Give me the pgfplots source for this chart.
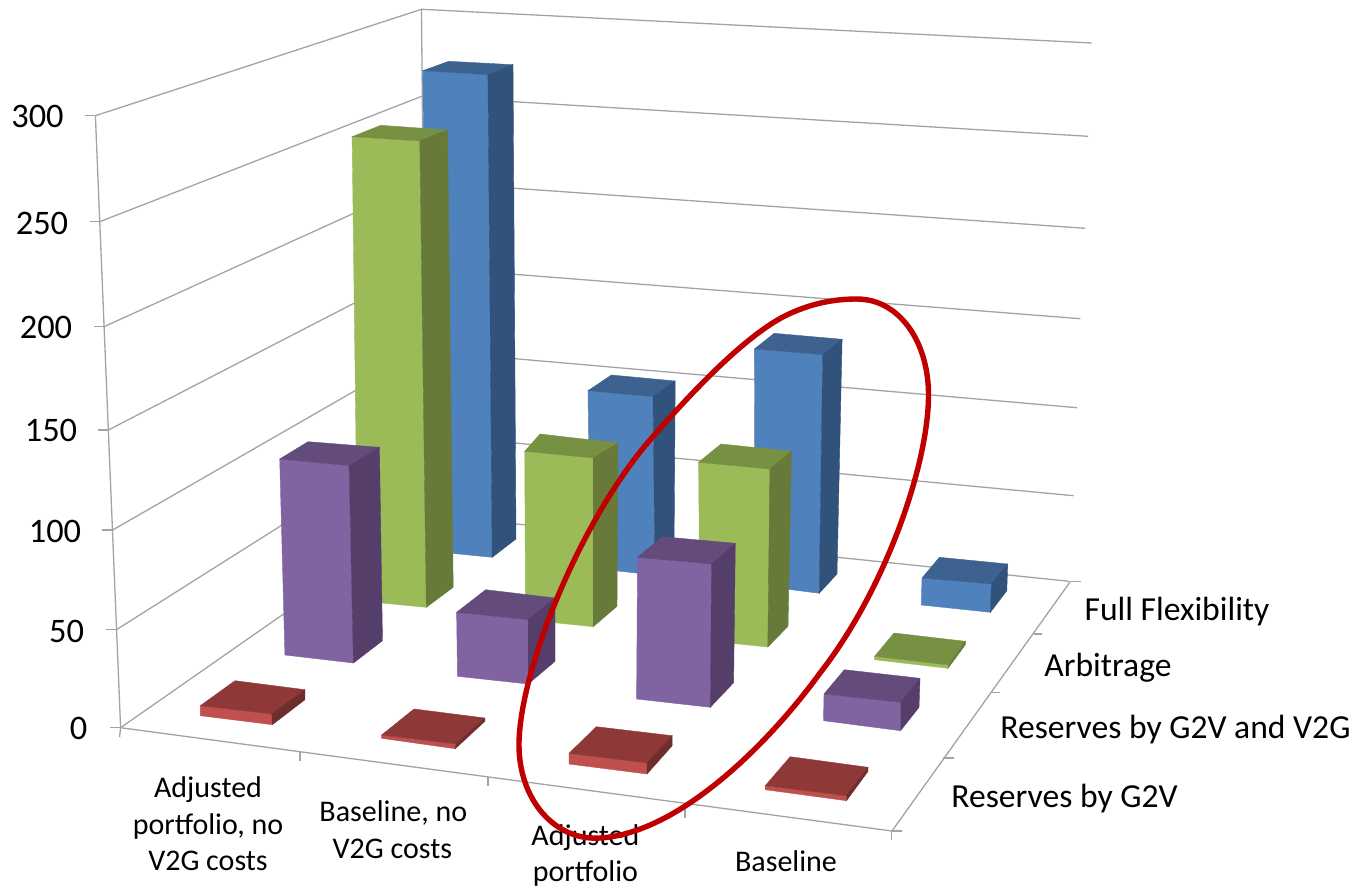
\documentclass[border=0pt]{standalone}
\usepackage{pgfplots}
\pgfplotsset{compat=1.18}
\usepackage{fontspec}
\setmainfont{Carlito}
\definecolor{gridc}{HTML}{A3A3A3}
\definecolor{blueF}{HTML}{4F81BD}\definecolor{blueT}{HTML}{3D628F}\definecolor{blueS}{HTML}{31527A}
\definecolor{greenF}{HTML}{9BBB59}\definecolor{greenT}{HTML}{779143}\definecolor{greenS}{HTML}{677A3A}
\definecolor{purpF}{HTML}{8064A2}\definecolor{purpT}{HTML}{634C7C}\definecolor{purpS}{HTML}{553F6A}
\definecolor{redF}{HTML}{C0504D}\definecolor{redT}{HTML}{8F3838}\definecolor{redS}{HTML}{6E2E2C}
\definecolor{ring}{HTML}{C00000}
% one grey rule of the chart frame
\newcommand\seg[4]{\addplot[gridc,line width=0.65pt] coordinates {(#1,#2) (#3,#4)};}
% one grey polyline of the chart frame
\newcommand\poly[1]{\addplot[gridc,line width=0.65pt] coordinates {#1};}
% one flat face of a bar
\newcommand\face[2]{\addplot[fill=#1,draw=#1,line width=0.2pt] coordinates {#2} --cycle;}
% a bar: front, top and side colour prefix, then the three faces
\newcommand\barbox[4]{\face{#1F}{#2}\face{#1T}{#3}\face{#1S}{#4}}
\newcommand\tickfont{\fontsize{17.2}{19}\selectfont}
\newcommand\catfont{\fontsize{15}{16}\selectfont}
\newcommand\serfont{\fontsize{16.8}{18}\selectfont}
\begin{document}
\begin{tikzpicture}
\useasboundingbox (0,0) rectangle (679pt,444pt);
\begin{axis}[at={(0,0)},anchor=south west,scale only axis,width=679pt,height=444pt,
  xmin=0,xmax=1358,ymin=0,ymax=888,y dir=reverse,hide axis,clip=false]
% walls: each level runs from the front edge to the back corner to the right end
\poly{(95.4,115.7) (421.5,9.3) (1091.6,43)}
\poly{(99.7,221.7) (422,96.2) (1088,136.3)}
\poly{(104,326.7) (423,181.9) (1085,228.3)}
\poly{(108.4,430) (423.8,267.2) (1080.4,318.7)}
\poly{(112.7,530) (424.5,350.8) (1076.9,407.7)}
\poly{(117,629.3) (425.3,434.5) (1073.5,495.7)}
\poly{(120.6,727.7) (426,514.6) (1069,581.3)}
% vertical edges
\seg{95.4}{115.7}{120.6}{727.7}
\seg{421.5}{9.3}{426}{514.6}
% floor edges
\seg{120.6}{727.7}{892}{831}
\seg{892}{831}{1070}{582}
% value ticks
\seg{85.4}{115.7}{95.4}{115.7}
\seg{89.5}{221.7}{99.7}{221.7}
\seg{93.5}{326.7}{104}{326.7}
\seg{98}{430}{108.4}{430}
\seg{102}{530}{112.7}{530}
\seg{106}{629.3}{117}{629.3}
\seg{110}{727.7}{120.6}{727.7}
% category ticks
\seg{120.6}{727.7}{119.6}{737}
\seg{300}{752}{300}{761}
\seg{488}{777}{488}{786}
\seg{685}{809}{685}{818}
\seg{891.6}{831}{891.6}{840}
% series ticks
\seg{892}{831}{902}{831}
\seg{943}{758}{953.7}{758}
\seg{991}{692.3}{1000}{692.3}
\seg{1033.7}{634}{1042}{634}
\seg{1070}{581.3}{1080.7}{581.3}
% Full Flexibility
\barbox{blue}{(422.8,70.7) (487.9,74.7) (492.2,557.3) (428,551)}{(422.8,70.7) (487.9,74.7) (513,64.7) (448.8,61.3)}{(487.9,74.7) (513,64.7) (516,539) (492.2,557.3)}
\barbox{blue}{(588,390.7) (653,396.7) (655,575) (590,568)}{(588,390.7) (653,396.7) (675.2,381) (611.4,375)}{(653,396.7) (675.2,381) (674,557) (655,575)}
\barbox{blue}{(754.4,349) (822.7,354.7) (819.2,593.3) (755,585)}{(754.4,349) (822.7,354.7) (842.1,339.3) (774.2,333.3)}{(822.7,354.7) (842.1,339.3) (837,574) (819.2,593.3)}
\barbox{blue}{(922,578) (991.3,584) (990.4,612.3) (921.2,605)}{(922,578) (991.3,584) (1007.7,564) (939.4,557.3)}{(991.3,584) (1007.7,564) (1006.8,590.7) (990.4,612.3)}
% Arbitrage
\barbox{green}{(352.1,136.7) (419.8,141) (426.3,607.3) (358,600.7)}{(352.1,136.7) (419.8,141) (447.5,130) (380.7,125.3)}{(419.8,141) (447.5,130) (453.2,587.3) (426.3,607.3)}
\barbox{green}{(524.7,451.3) (593.2,458) (593.2,626.7) (525.6,619.7)}{(524.7,451.3) (593.2,458) (618,443) (540,434)}{(593.2,458) (618,443) (617,606.3) (593.2,626.7)}
\barbox{green}{(698.6,462.3) (769.9,469) (767.8,647) (700,640)}{(698.6,462.3) (769.9,469) (791.5,451.3) (721,444)}{(769.9,469) (791.5,451.3) (788,626.3) (767.8,647)}
\barbox{green}{(874.6,656.3) (949,665) (948,668.3) (874.6,659.7)}{(874.6,656.3) (949,665) (965.3,641.3) (894,633)}{(949,665) (965.3,641.3) (965.3,644.7) (948,668.3)}
% Reserves by G2V and V2G
\barbox{purp}{(279.7,459) (349.1,465.7) (353.4,663) (284.9,655)}{(279.7,459) (349.1,465.7) (379.4,447.3) (308,441.7)}{(349.1,465.7) (379.4,447.3) (382.5,640.7) (353.4,663)}
\barbox{purp}{(456.6,612.3) (528.2,619.7) (528.2,684) (457.5,676.3)}{(456.6,612.3) (528.2,619.7) (555,598) (485.7,589.7)}{(528.2,619.7) (555,598) (555,661.3) (528.2,684)}
\barbox{purp}{(637.5,557.3) (711.6,564) (710.3,707.3) (636.6,699)}{(637.5,557.3) (711.6,564) (735.3,543.3) (662.2,536.7)}{(711.6,564) (735.3,543.3) (733.6,682.7) (710.3,707.3)}
\barbox{purp}{(824,694) (900.5,702.3) (900.5,730.7) (823.5,720.7)}{(824,694) (900.5,702.3) (920,678.3) (844.3,669.7)}{(900.5,702.3) (920,678.3) (919,707.3) (900.5,730.7)}
% Reserves by G2V
\barbox{red}{(200.3,705.7) (271.9,714) (272.3,724.7) (200.3,715.7)}{(200.3,705.7) (271.9,714) (304.9,689.7) (235,680.7)}{(271.9,714) (304.9,689.7) (304.9,699.7) (272.3,724.7)}
\barbox{red}{(381.6,735) (456.2,744) (455.3,748.7) (381.6,738.3)}{(381.6,735) (456.2,744) (484.8,718) (414,709)}{(456.2,744) (484.8,718) (484.8,721.3) (455.3,748.7)}
\barbox{red}{(569,753.3) (647,763) (647,774) (569,764)}{(569,753.3) (647,763) (672.2,735.7) (596.3,726.7)}{(647,763) (672.2,735.7) (672.2,745.7) (647,774)}
\barbox{red}{(765.2,785.7) (846.5,795.7) (846.5,800.7) (765.2,789.7)}{(765.2,785.7) (846.5,795.7) (868,767.3) (790.2,756.7)}{(846.5,795.7) (868,767.3) (868,771.3) (846.5,800.7)}
% value labels
\node[anchor=base,font=\tickfont,inner sep=0pt] at (axis cs:37.5,127) {300};
\node[anchor=base,font=\tickfont,inner sep=0pt] at (axis cs:42,234) {250};
\node[anchor=base,font=\tickfont,inner sep=0pt] at (axis cs:46,338.7) {200};
\node[anchor=base,font=\tickfont,inner sep=0pt] at (axis cs:51,441.7) {150};
\node[anchor=base,font=\tickfont,inner sep=0pt] at (axis cs:55,542.3) {100};
\node[anchor=base,font=\tickfont,inner sep=0pt] at (axis cs:66.5,642.3) {50};
\node[anchor=base,font=\tickfont,inner sep=0pt] at (axis cs:78.7,739) {0};
% category labels
\node[anchor=base,font=\catfont,inner sep=0pt] at (axis cs:208,797.5) {Adjusted};
\node[anchor=base,font=\catfont,inner sep=0pt] at (axis cs:208,834) {portfolio, no};
\node[anchor=base,font=\catfont,inner sep=0pt] at (axis cs:208,870) {V2G costs};
\node[anchor=base,font=\catfont,inner sep=0pt] at (axis cs:393.3,821.3) {Baseline, no};
\node[anchor=base,font=\catfont,inner sep=0pt] at (axis cs:392.4,858.3) {V2G costs};
\node[anchor=base,font=\catfont,inner sep=0pt] at (axis cs:585.4,845) {Adjusted};
\node[anchor=base,font=\catfont,inner sep=0pt] at (axis cs:585.4,881.3) {portfolio};
\node[anchor=base,font=\catfont,inner sep=0pt] at (axis cs:786,871.7) {Baseline};
% series labels
\node[anchor=base west,font=\serfont,inner sep=0pt] at (axis cs:1084.2,620.5) {Full Flexibility};
\node[anchor=base west,font=\serfont,inner sep=0pt] at (axis cs:1044,676.2) {Arbitrage};
\node[anchor=base west,font=\serfont,inner sep=0pt] at (axis cs:1000,738.2) {Reserves by G2V and V2G};
\node[anchor=base west,font=\serfont,inner sep=0pt] at (axis cs:951,807) {Reserves by G2V};
% the hand-drawn ring around the two rightmost columns
\draw[ring,line width=2.7pt]
  (axis cs:857,299)
  .. controls (axis cs:898,299) and (axis cs:928.5,340) .. (axis cs:928.5,395)
  .. controls (axis cs:928.5,465) and (axis cs:885,590) .. (axis cs:820,673)
  .. controls (axis cs:770,742) and (axis cs:680,833) .. (axis cs:600,838)
  .. controls (axis cs:555,841) and (axis cs:519,800) .. (axis cs:519,745)
  .. controls (axis cs:519,670) and (axis cs:582,518) .. (axis cs:650,440)
  .. controls (axis cs:683,402) and (axis cs:745,333.5) .. (axis cs:790,313.5)
  .. controls (axis cs:813,303) and (axis cs:835,299) .. cycle;
\end{axis}
\end{tikzpicture}
\end{document}
